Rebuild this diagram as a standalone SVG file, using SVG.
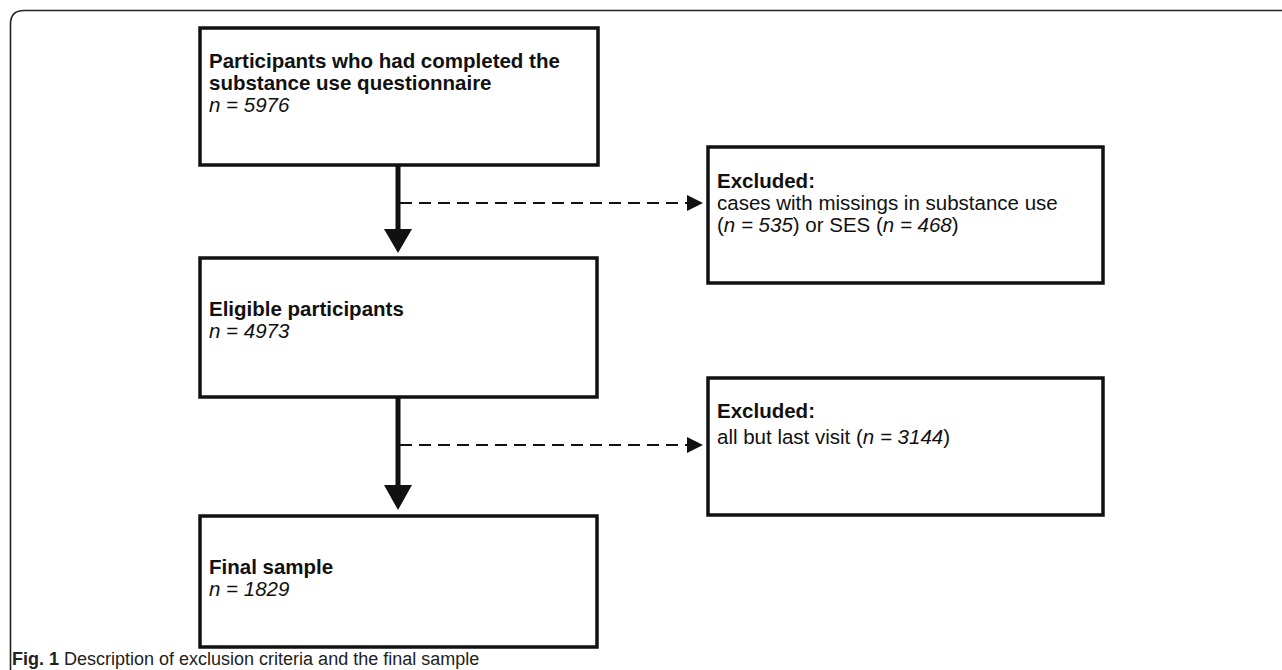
<svg xmlns="http://www.w3.org/2000/svg" width="1282" height="670" viewBox="0 0 1282 670">
<style>
.box{fill:#fff;stroke:#111;stroke-width:3.5}
.t{font-family:"Liberation Sans",Arial,sans-serif;font-size:20.5px;fill:#111}
.b{font-weight:bold}
.i{font-style:italic}
.solid{stroke:#111;stroke-width:5;fill:none}
.dash{stroke:#111;stroke-width:1.8;stroke-dasharray:12 7;fill:none}
.cap{font-family:"Liberation Sans",Arial,sans-serif;font-size:18px;fill:#222}
</style>
<rect width="1282" height="670" fill="#fff"/>
<path d="M10.5,670 V24 Q10.5,10.5 24,10.5 H1282" fill="none" stroke="#222" stroke-width="1.6"/>
<g id="connectors">
<line class="solid" x1="398" y1="165" x2="398" y2="230"/>
<polygon points="384,229 412,229 398,253" fill="#111"/>
<line class="dash" x1="400" y1="203" x2="688" y2="203"/>
<polygon points="687,195 687,211 703,203" fill="#111"/>
<line class="solid" x1="398" y1="397" x2="398" y2="486"/>
<polygon points="384,485 412,485 398,510" fill="#111"/>
<line class="dash" x1="400" y1="445" x2="688" y2="445"/>
<polygon points="687,437 687,453 703,445" fill="#111"/>
</g>
<g id="node-start">
<rect class="box" x="200" y="28" width="398" height="137"/>
<text class="t b" x="209" y="68">Participants who had completed the</text>
<text class="t b" x="209" y="90">substance use questionnaire</text>
<text class="t i" x="209" y="112">n = 5976</text>
</g>
<g id="node-excluded1">
<rect class="box" x="708" y="147" width="395" height="136"/>
<text class="t b" x="717" y="188">Excluded:</text>
<text class="t" x="717" y="210">cases with missings in substance use</text>
<text class="t" x="717" y="232">(<tspan class="i">n = 535</tspan>) or SES (<tspan class="i">n = 468</tspan>)</text>
</g>
<g id="node-eligible">
<rect class="box" x="200" y="258" width="397" height="139"/>
<text class="t b" x="209" y="316">Eligible participants</text>
<text class="t i" x="209" y="338">n = 4973</text>
</g>
<g id="node-excluded2">
<rect class="box" x="708" y="378" width="395" height="137"/>
<text class="t b" x="717" y="418">Excluded:</text>
<text class="t" x="717" y="444">all but last visit (<tspan class="i">n = 3144</tspan>)</text>
</g>
<g id="node-final">
<rect class="box" x="200" y="516" width="397" height="131"/>
<text class="t b" x="209" y="574">Final sample</text>
<text class="t i" x="209" y="596">n = 1829</text>
</g>
<text class="cap" x="12" y="665"><tspan font-weight="bold">Fig. 1</tspan>  Description of exclusion criteria and the final sample</text>
</svg>
